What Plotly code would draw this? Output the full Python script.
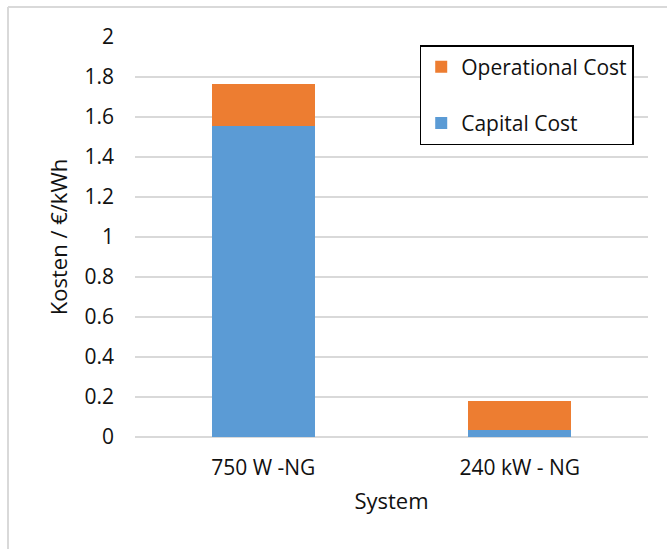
import plotly.graph_objects as go

# Levelised cost per system, split into capital and operational parts (€/kWh)
systems = ["750 W -NG", "240 kW - NG"]
capital_cost = [1.557, 0.034]
operational_cost = [0.208, 0.148]

y_ticks = [0, 0.2, 0.4, 0.6, 0.8, 1, 1.2, 1.4, 1.6, 1.8, 2]
y_tick_text = ["0", "0.2", "0.4", "0.6", "0.8", "1", "1.2", "1.4", "1.6", "1.8", "2"]

BLUE = "#5b9bd5"
ORANGE = "#ed7d31"
GRID = "#d9d9d9"
FONT = "Open Sans"
TEXT = "#111111"

fig = go.Figure()
fig.add_trace(go.Bar(x=systems, y=capital_cost, name="Capital Cost",
                     marker=dict(color=BLUE, line=dict(width=0)),
                     legendgroup="cap", legendrank=2))
fig.add_trace(go.Bar(x=systems, y=operational_cost, name="Operational Cost",
                     marker=dict(color=ORANGE, line=dict(width=0)),
                     legendgroup="op", legendrank=1))

fig.update_layout(
    width=667, height=549,
    margin=dict(l=135, r=19, t=37, b=112),
    paper_bgcolor="white", plot_bgcolor="white",
    barmode="stack", bargap=0.6,
    font=dict(family=FONT, size=21, color=TEXT),
    showlegend=True,
    legend=dict(
        x=0.555, y=0.98, xanchor="left", yanchor="top",
        traceorder="grouped", tracegroupgap=26,
        bordercolor="#000000", borderwidth=1.5, bgcolor="white",
        font=dict(family=FONT, size=21, color=TEXT),
    ),
    xaxis=dict(
        title=dict(text="System", font=dict(size=22), standoff=13),
        showgrid=False, showline=False, zeroline=False, ticks="",
        tickfont=dict(size=21), ticklabelstandoff=16,
    ),
    yaxis=dict(
        title=dict(text="Kosten / €/kWh", font=dict(size=22), standoff=10),
        range=[0, 2], tickvals=y_ticks, ticktext=y_tick_text,
        showgrid=True, gridcolor=GRID, gridwidth=2,
        zeroline=True, zerolinecolor=GRID, zerolinewidth=2,
        showline=False, ticks="", ticklabelstandoff=20,
        tickfont=dict(size=21),
    ),
    shapes=[
        # light outer frame of the chart area (left and top edges)
        dict(type="line", xref="paper", yref="paper",
             x0=-0.2476, x1=1.2, y0=1.075, y1=1.075,
             line=dict(color=GRID, width=2)),
        dict(type="line", xref="paper", yref="paper",
             x0=-0.2476, x1=-0.2476, y0=1.075, y1=-0.4,
             line=dict(color=GRID, width=2)),
    ],
)

fig.write_html("out.html")
